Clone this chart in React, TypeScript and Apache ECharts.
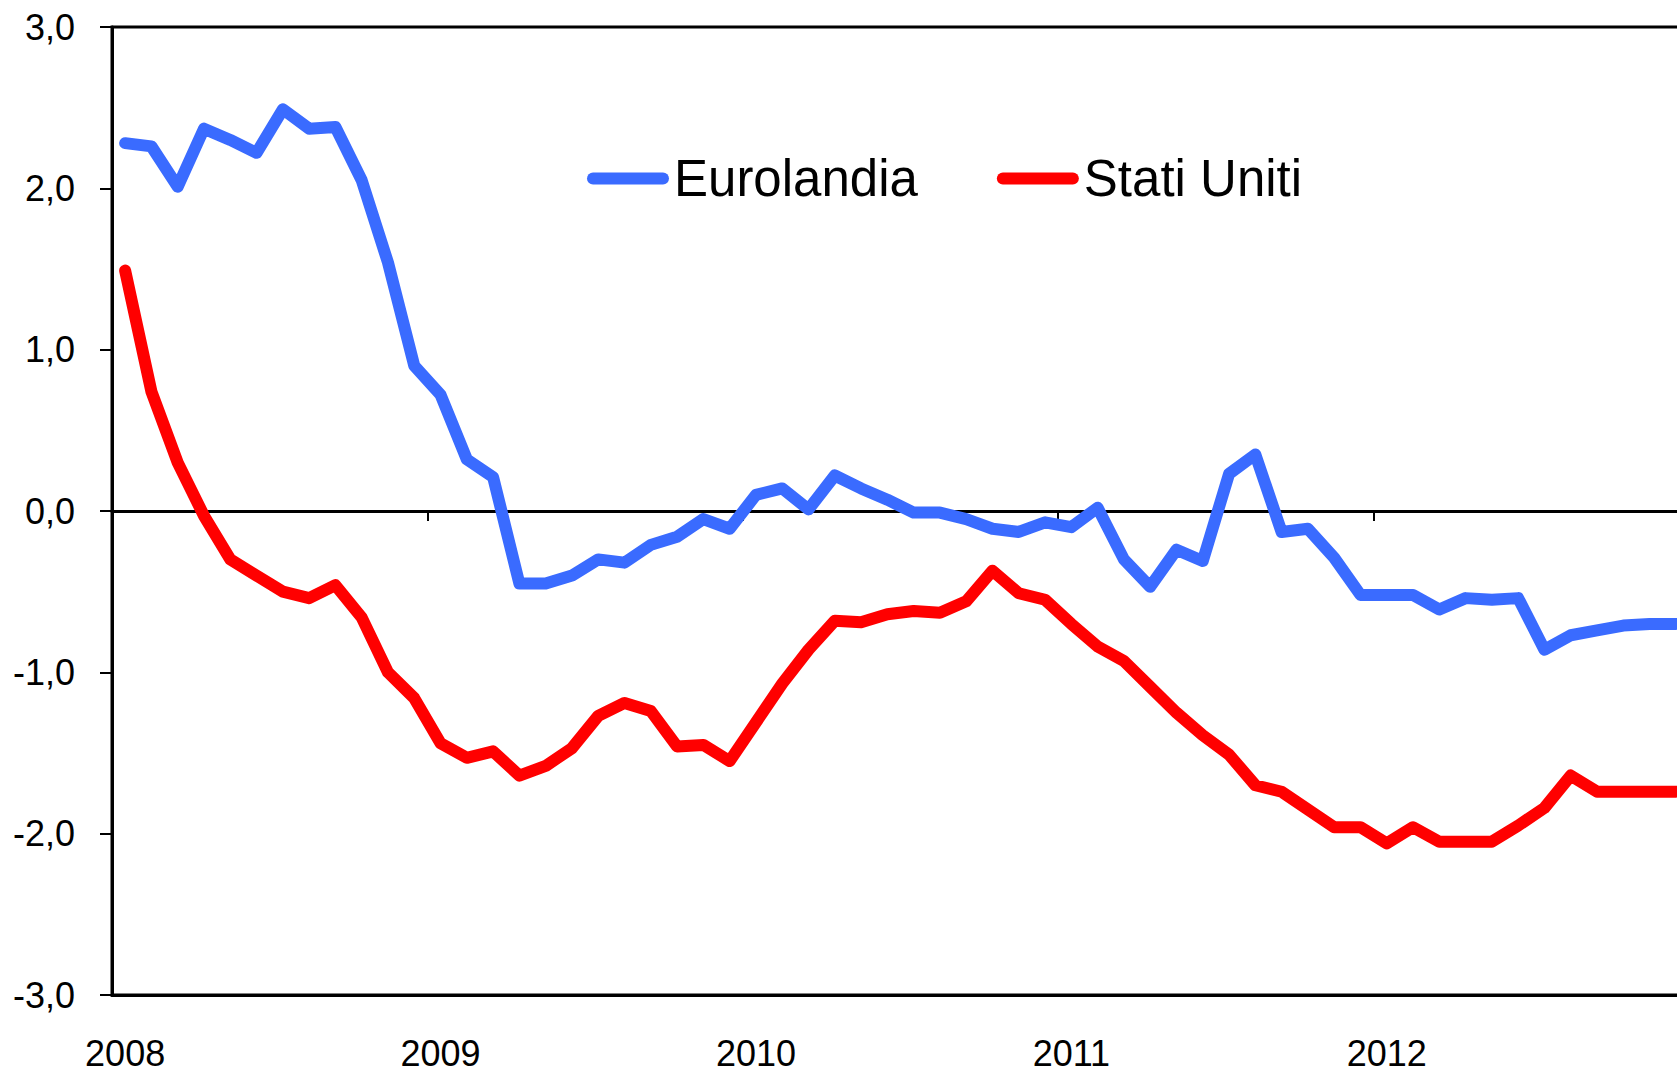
import React, { useEffect, useRef } from "react";
import * as echarts from "echarts";

const years = ["2008", "2009", "2010", "2011", "2012"];
const monthNames = ["gen", "feb", "mar", "apr", "mag", "giu", "lug", "ago", "set", "ott", "nov", "dic"];
const categories: string[] = [];
years.forEach((y) => monthNames.forEach((m) => categories.push(`${m} ${y}`)));

const eurolandia = [
  2.28, 2.26, 2.01, 2.37, 2.3, 2.22, 2.49, 2.37, 2.38, 2.05, 1.54, 0.9,
  0.72, 0.32, 0.21, -0.45, -0.45, -0.4, -0.3, -0.32, -0.21, -0.16, -0.05, -0.11,
  0.1, 0.14, 0.01, 0.22, 0.14, 0.07, -0.01, -0.01, -0.05, -0.11, -0.13, -0.07,
  -0.1, 0.02, -0.3, -0.47, -0.24, -0.31, 0.23, 0.35, -0.13, -0.11, -0.29, -0.52,
  -0.52, -0.52, -0.61, -0.54, -0.55, -0.54, -0.86, -0.77, -0.74, -0.71, -0.7, -0.7,
];

const statiUniti = [
  1.49, 0.74, 0.3, -0.03, -0.3, -0.4, -0.5, -0.54, -0.46, -0.66, -1.0, -1.16,
  -1.44, -1.53, -1.49, -1.64, -1.58, -1.47, -1.27, -1.19, -1.24, -1.46, -1.45, -1.55,
  -1.31, -1.07, -0.86, -0.68, -0.69, -0.64, -0.62, -0.63, -0.56, -0.37, -0.51, -0.55,
  -0.7, -0.84, -0.93, -1.09, -1.25, -1.39, -1.51, -1.7, -1.74, -1.85, -1.96, -1.96,
  -2.06, -1.96, -2.05, -2.05, -2.05, -1.95, -1.84, -1.64, -1.74, -1.74, -1.74, -1.74,
];

const FONT = "'Liberation Sans', Arial, Helvetica, sans-serif";
const BLUE = "#3A6BFF";
const RED = "#FF0000";
const capsule = "path://M6,0 L76,0 A6,6 0 0 1 76,12 L6,12 A6,6 0 0 1 6,0 Z";

export default function App() {
  const ref = useRef<HTMLDivElement>(null);
  useEffect(() => {
    document.body.style.margin = "0";
    if (!ref.current) return;
    const chart = echarts.init(ref.current, undefined, { renderer: "svg" });
    chart.setOption({
      animation: false,
      backgroundColor: "#ffffff",
      grid: {
        left: 112,
        top: 27,
        width: 1577,
        height: 968,
        containLabel: false,
        outerBoundsMode: "none",
        show: true,
        borderColor: "#000",
        borderWidth: 3,
        backgroundColor: "transparent",
      },
      legend: {
        left: 587,
        top: 153,
        padding: 0,
        itemWidth: 82,
        itemHeight: 12,
        itemGap: 79,
        icon: capsule,
        textStyle: { fontFamily: FONT, fontSize: 51, color: "#000" },
        data: [
          { name: "Eurolandia", itemStyle: { color: BLUE } },
          { name: "Stati Uniti", itemStyle: { color: RED } },
        ],
      },
      xAxis: [
        {
          type: "category",
          data: categories,
          position: "bottom",
          axisLine: { onZero: true, lineStyle: { color: "#000", width: 3 } },
          axisTick: { show: true, interval: 11, length: 10, lineStyle: { color: "#000", width: 2 } },
          axisLabel: { show: false },
          splitLine: { show: false },
        },
        {
          type: "category",
          data: categories,
          position: "bottom",
          axisLine: { onZero: false, lineStyle: { color: "#000", width: 3 } },
          axisTick: { show: false },
          axisLabel: {
            interval: 11,
            margin: 40,
            fontFamily: FONT,
            fontSize: 36,
            color: "#000",
            formatter: (v: string) => v.split(" ")[1],
          },
          splitLine: { show: false },
        },
      ],
      yAxis: {
        type: "value",
        min: -3,
        max: 3,
        interval: 1,
        axisLine: { show: true, lineStyle: { color: "#000", width: 3 } },
        axisTick: { show: true, length: 12, lineStyle: { color: "#000", width: 2 } },
        axisLabel: {
          margin: 37,
          fontFamily: FONT,
          fontSize: 36,
          color: "#000",
          formatter: (v: number) => v.toFixed(1).replace(".", ","),
        },
        splitLine: { show: false },
      },
      series: [
        {
          name: "Eurolandia",
          type: "line",
          xAxisIndex: 0,
          data: eurolandia,
          symbol: "none",
          lineStyle: { color: BLUE, width: 12, cap: "round", join: "round" },
          itemStyle: { color: BLUE },
        },
        {
          name: "Stati Uniti",
          type: "line",
          xAxisIndex: 0,
          data: statiUniti,
          symbol: "none",
          lineStyle: { color: RED, width: 12, cap: "round", join: "round" },
          itemStyle: { color: RED },
        },
      ],
    });
    return () => chart.dispose();
  }, []);
  return <div ref={ref} style={{ width: 1677, height: 1072 }} />;
}
